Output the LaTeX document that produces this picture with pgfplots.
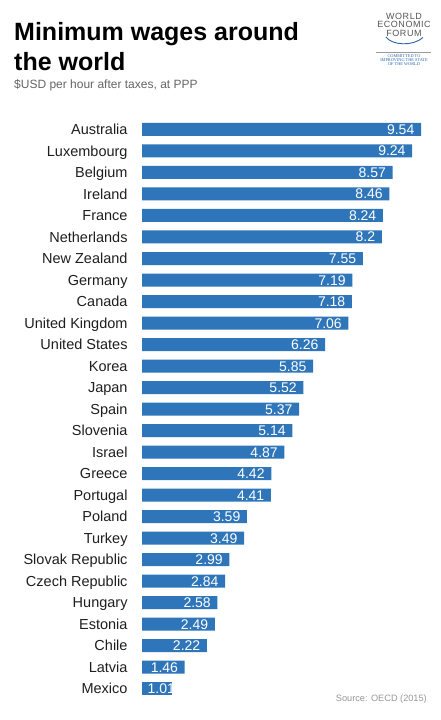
\documentclass[border=0pt]{standalone}
\usepackage{pgfplots}
\pgfplotsset{compat=1.18}
\usepackage{fontspec}
\setmainfont{Liberation Sans}
\newfontfamily\logoserif{Liberation Serif}
\definecolor{barblue}{RGB}{46,117,185}
\definecolor{labelgray}{RGB}{30,30,30}
\definecolor{subgray}{RGB}{100,100,100}
\definecolor{srcgray}{RGB}{150,150,150}
\definecolor{logogray}{RGB}{85,85,85}
\definecolor{logoblue}{RGB}{40,100,170}
\begin{document}
\begin{tikzpicture}[x=1pt,y=1pt]
\path[use as bounding box] (0,0) rectangle (440,720);
% titles
\node[anchor=base west, inner sep=0pt, font=\fontsize{25}{29}\selectfont\bfseries] at (14,720-41) {Minimum wages around};
\node[anchor=base west, inner sep=0pt, font=\fontsize{25}{29}\selectfont\bfseries] at (14,720-70.5) {the world};
\node[anchor=base west, inner sep=0pt, font=\fontsize{12}{14}\selectfont, text=subgray] at (14,720-88.3) {\$USD per hour after taxes, at PPP};
\node[anchor=base east, inner sep=0pt, font=\fontsize{9.2}{11}\selectfont, text=srcgray] at (427,720-702) {Source: OECD (2015)};
% logo
\node[anchor=base, inner sep=0pt, font=\fontsize{9}{10}\selectfont\addfontfeatures{LetterSpace=6}, text=logogray] at (404,720-19.3) {WORLD};
\node[anchor=base, inner sep=0pt, font=\fontsize{9}{10}\selectfont\addfontfeatures{LetterSpace=6}, text=logogray] at (404,720-28) {ECONOMIC};
\node[anchor=base, inner sep=0pt, font=\fontsize{9}{10}\selectfont\addfontfeatures{LetterSpace=6}, text=logogray] at (404,720-36.5) {FORUM};
\draw[logoblue, line width=0.9pt] (386,720-37) .. controls (392,720-45.5) and (413,720-46.5) .. (423,720-37.5);
\draw[logogray!60, line width=0.4pt] (376,720-52) -- (431,720-52);
\node[anchor=base, inner sep=0pt, font=\logoserif\fontsize{4.3}{4.6}\selectfont, text=logoblue] at (404,720-57.5) {COMMITTED TO};
\node[anchor=base, inner sep=0pt, font=\logoserif\fontsize{4.3}{4.6}\selectfont, text=logoblue] at (404,720-61.5) {IMPROVING THE STATE};
\node[anchor=base, inner sep=0pt, font=\logoserif\fontsize{4.3}{4.6}\selectfont, text=logoblue] at (404,720-65.5) {OF THE WORLD};
\begin{axis}[
  at={(142pt,20.6pt)}, anchor=south west,
  scale only axis, width=279pt, height=580.7pt,
  xbar, bar width=13pt, bar shift=0pt,
  xmin=0, xmax=9.54, ymin=-0.5, ymax=26.5,
  enlargelimits=false, y dir=reverse,
  axis line style={draw=none}, major tick style={draw=none},
  xtick=\empty,
  ytick={0,...,26},
  yticklabels={Australia,Luxembourg,Belgium,Ireland,France,Netherlands,New Zealand,Germany,Canada,United Kingdom,United States,Korea,Japan,Spain,Slovenia,Israel,Greece,Portugal,Poland,Turkey,Slovak Republic,Czech Republic,Hungary,Estonia,Chile,Latvia,Mexico},
  yticklabel style={anchor=east, inner sep=0pt, xshift=-10pt, font=\fontsize{14.5}{16}\selectfont, text=labelgray, text height=10.3pt, text depth=0pt},
  point meta=explicit symbolic,
  nodes near coords,
  every node near coord/.append style={anchor=east, inner sep=0pt, xshift=-6.5pt, text=white, font=\fontsize{14}{16}\selectfont, text height=10pt, text depth=0pt},
  clip=false,
]
\addplot[fill=barblue, draw=none] coordinates {
(9.54,0) [9.54]
(9.24,1) [9.24]
(8.57,2) [8.57]
(8.46,3) [8.46]
(8.24,4) [8.24]
(8.2,5) [8.2]
(7.55,6) [7.55]
(7.19,7) [7.19]
(7.18,8) [7.18]
(7.06,9) [7.06]
(6.26,10) [6.26]
(5.85,11) [5.85]
(5.52,12) [5.52]
(5.37,13) [5.37]
(5.14,14) [5.14]
(4.87,15) [4.87]
(4.42,16) [4.42]
(4.41,17) [4.41]
(3.59,18) [3.59]
(3.49,19) [3.49]
(2.99,20) [2.99]
(2.84,21) [2.84]
(2.58,22) [2.58]
(2.49,23) [2.49]
(2.22,24) [2.22]
(1.46,25) [1.46]
};
\addplot[fill=barblue, draw=none, every node near coord/.append style={xshift=10pt}] coordinates {
(1.01,26) [1.01]
};
\end{axis}
\end{tikzpicture}
\end{document}
